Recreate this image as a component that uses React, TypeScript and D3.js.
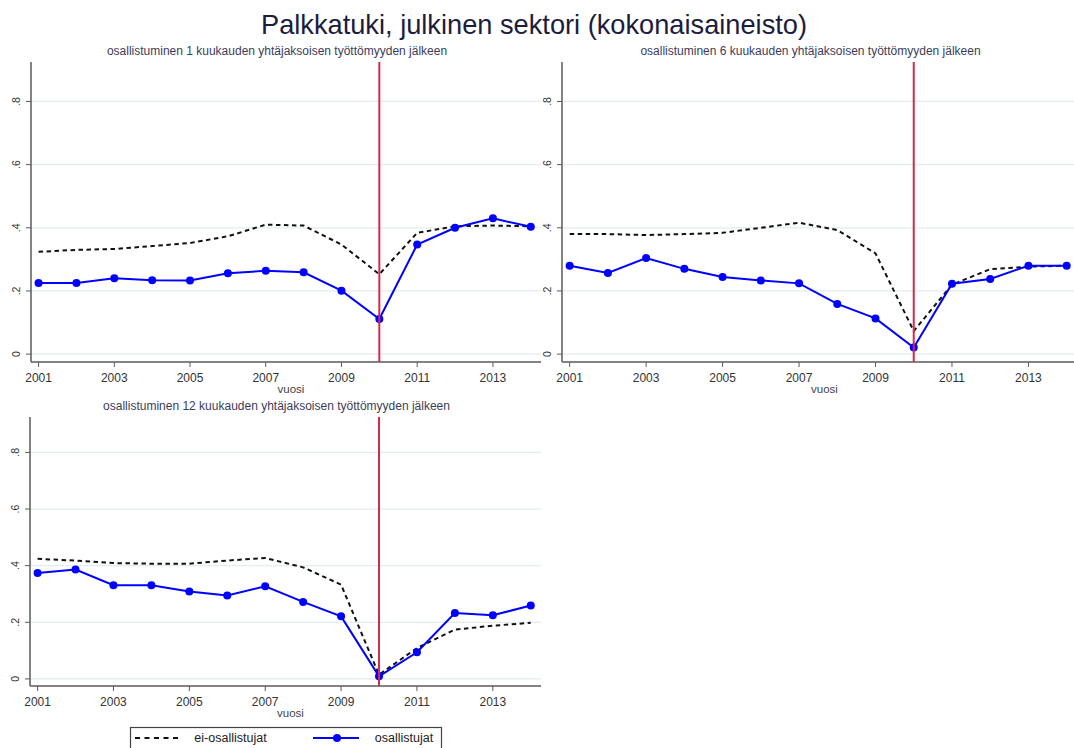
import React from "react";
import * as d3 from "d3";

const years = [2001, 2002, 2003, 2004, 2005, 2006, 2007, 2008, 2009, 2010, 2011, 2012, 2013, 2014];
const yearTicks = [2001, 2003, 2005, 2007, 2009, 2011, 2013];
const valueTicks = [0, 0.2, 0.4, 0.6, 0.8];
const valueTickLabels = ["0", ".2", ".4", ".6", ".8"];

const subtitles = [
  "osallistuminen 1 kuukauden yhtäjaksoisen työttömyyden jälkeen",
  "osallistuminen 6 kuukauden yhtäjaksoisen työttömyyden jälkeen",
  "osallistuminen 12 kuukauden yhtäjaksoisen työttömyyden jälkeen",
];

// ei-osallistujat (dashed)
const nonPart1 = [0.324, 0.33, 0.333, 0.342, 0.352, 0.373, 0.41, 0.407, 0.347, 0.253, 0.384, 0.405, 0.407, 0.405];
const nonPart6 = [0.38, 0.38, 0.377, 0.38, 0.384, 0.4, 0.416, 0.393, 0.319, 0.073, 0.22, 0.269, 0.277, 0.28];
const nonPart12 = [0.424, 0.418, 0.409, 0.407, 0.407, 0.418, 0.427, 0.394, 0.333, 0.015, 0.109, 0.174, 0.188, 0.198];

// osallistujat (blue, markers)
const part1 = [0.225, 0.225, 0.24, 0.234, 0.233, 0.256, 0.264, 0.259, 0.201, 0.111, 0.347, 0.4, 0.43, 0.403];
const part6 = [0.28, 0.257, 0.304, 0.27, 0.244, 0.233, 0.224, 0.159, 0.113, 0.021, 0.223, 0.238, 0.28, 0.28];
const part12 = [0.374, 0.386, 0.331, 0.331, 0.309, 0.295, 0.327, 0.272, 0.221, 0.009, 0.094, 0.233, 0.225, 0.259];

const cutYear = 2010;
const mainTitle = "Palkkatuki, julkinen sektori (kokonaisaineisto)";
const xTitle = "vuosi";
const legendLabels = ["ei-osallistujat", "osallistujat"];

const FONT = "'Liberation Sans', Arial, sans-serif";

type PanelProps = {
  left: number;
  right: number;
  top: number;
  bottom: number;
  subtitle: string;
  nonPart: number[];
  part: number[];
};

function Panel({ left, right, top, bottom, subtitle, nonPart, part }: PanelProps) {
  const x = d3.scaleLinear().domain([2000.8, 2014.27]).range([left, right]);
  const y = d3.scaleLinear().domain([-0.025, 0.925]).range([bottom, top]);
  const lineGen = d3
    .line<number>()
    .x((_, i) => x(years[i]))
    .y((d) => y(d));
  const axisColor = "#5a5a5a";
  return (
    <g>
      <text
        x={(left + right) / 2 - 9}
        y={top - 7}
        textAnchor="middle"
        fontFamily={FONT}
        fontSize={12}
        fill="#3c3c5a"
      >
        {subtitle}
      </text>
      {valueTicks.map((v) => (
        <line key={"g" + v} x1={left} x2={right} y1={y(v)} y2={y(v)} stroke="#e3ecee" strokeWidth={1.3} />
      ))}
      {valueTicks.map((v, i) => (
        <g key={"t" + v}>
          <line x1={left - 5} x2={left} y1={y(v)} y2={y(v)} stroke={axisColor} strokeWidth={1} />
          <text
            transform={`translate(${left - 11},${y(v)}) rotate(-90)`}
            textAnchor="middle"
            fontFamily={FONT}
            fontSize={10.5}
            fill="#333"
          >
            {valueTickLabels[i]}
          </text>
        </g>
      ))}
      {yearTicks.map((yr) => (
        <g key={"x" + yr}>
          <line x1={x(yr)} x2={x(yr)} y1={bottom} y2={bottom + 5} stroke={axisColor} strokeWidth={1} />
          <text x={x(yr)} y={bottom + 20} textAnchor="middle" fontFamily={FONT} fontSize={12} fill="#333">
            {yr}
          </text>
        </g>
      ))}
      <text x={(left + right) / 2 + 5} y={bottom + 31} textAnchor="middle" fontFamily={FONT} fontSize={11.5} fill="#444">
        {xTitle}
      </text>
      <line x1={left} x2={left} y1={top} y2={bottom} stroke={axisColor} strokeWidth={1.5} />
      <line x1={left} x2={right} y1={bottom} y2={bottom} stroke={axisColor} strokeWidth={1.5} />
      <path d={lineGen(nonPart) || ""} fill="none" stroke="#111" strokeWidth={2} strokeDasharray="4.5,3.5" />
      <path d={lineGen(part) || ""} fill="none" stroke="#0000ff" strokeWidth={2} />
      {part.map((v, i) => (
        <circle key={"c" + i} cx={x(years[i])} cy={y(v)} r={4} fill="#0000ff" />
      ))}
      <line x1={x(cutYear)} x2={x(cutYear)} y1={top} y2={bottom} stroke="#d42a4c" strokeWidth={2} />
    </g>
  );
}

export default function App() {
  return (
    <svg
      width={1074}
      height={748}
      style={{ position: "absolute", left: 0, top: 0, display: "block", background: "#fff" }}
    >
      <rect width={1074} height={748} fill="#fff" />
      <text
        x={534}
        y={34}
        textAnchor="middle"
        fontFamily={FONT}
        fontSize={28}
        textLength={546}
        lengthAdjust="spacingAndGlyphs"
        fill="#1c1c40"
      >
        {mainTitle}
      </text>
      <Panel left={31} right={541} top={62} bottom={362} subtitle={subtitles[0]} nonPart={nonPart1} part={part1} />
      <Panel left={562} right={1077} top={62} bottom={362} subtitle={subtitles[1]} nonPart={nonPart6} part={part6} />
      <Panel left={30} right={541} top={417} bottom={686} subtitle={subtitles[2]} nonPart={nonPart12} part={part12} />
      <g>
        <rect x={130.5} y={727.5} width={311} height={26} fill="#fff" stroke="#444" strokeWidth={1.2} />
        <line x1={135} x2={179} y1={738} y2={738} stroke="#111" strokeWidth={2} strokeDasharray="5,4.5" />
        <text x={230.5} y={742} textAnchor="middle" fontFamily={FONT} fontSize={12.5} fill="#222">
          {legendLabels[0]}
        </text>
        <line x1={313} x2={359} y1={738} y2={738} stroke="#0000ff" strokeWidth={2} />
        <circle cx={337} cy={738} r={4} fill="#0000ff" />
        <text x={404} y={742} textAnchor="middle" fontFamily={FONT} fontSize={12.5} fill="#222">
          {legendLabels[1]}
        </text>
      </g>
    </svg>
  );
}
